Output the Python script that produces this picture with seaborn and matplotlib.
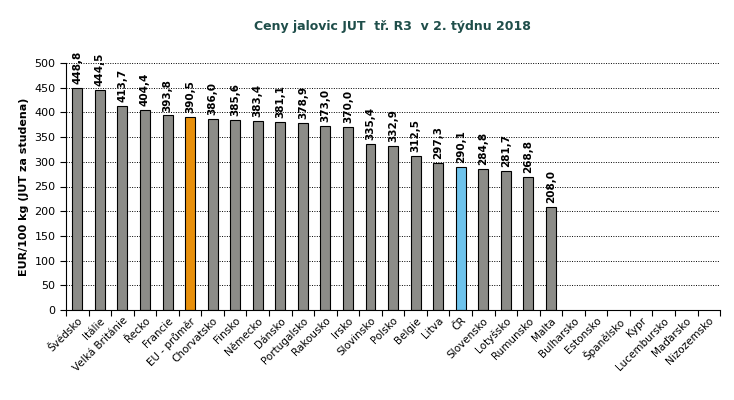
import numpy as np
import pandas as pd
import matplotlib
matplotlib.use("Agg")
import matplotlib.pyplot as plt
import seaborn as sns
from matplotlib.ticker import MultipleLocator, FixedLocator

# data
zeme = ["Švédsko", "Itálie", "Velká Británie", "Řecko", "Francie", "EU - průměr",
        "Chorvatsko", "Finsko", "Německo", "Dánsko", "Portugalsko", "Rakousko",
        "Irsko", "Slovinsko", "Polsko", "Belgie", "Litva", "ČR", "Slovensko",
        "Lotyšsko", "Rumunsko", "Malta", "Bulharsko", "Estonsko", "Španělsko",
        "Kypr", "Lucembursko", "Maďarsko", "Nizozemsko"]
ceny = [448.8, 444.5, 413.7, 404.4, 393.8, 390.5, 386.0, 385.6, 383.4, 381.1,
        378.9, 373.0, 370.0, 335.4, 332.9, 312.5, 297.3, 290.1, 284.8, 281.7,
        268.8, 208.0, np.nan, np.nan, np.nan, np.nan, np.nan, np.nan, np.nan]

df = pd.DataFrame({"Zeme": zeme, "Cena": ceny})

sns.set_style("white")
plt.rcParams["font.family"] = ["DejaVu Sans"]
plt.rcParams["text.color"] = "black"
plt.rcParams["axes.labelcolor"] = "black"
plt.rcParams["xtick.color"] = "black"
plt.rcParams["ytick.color"] = "black"

barvy = {z: "#8C8C88" for z in zeme}
barvy["EU - průměr"] = "#E8900C"
barvy["ČR"] = "#6EC3EC"

fig = plt.figure(figsize=(7.34, 4.0), dpi=100)
ax = fig.add_axes([0.09, 0.225, 0.891, 0.6175])

sns.barplot(data=df, x="Zeme", y="Cena", hue="Zeme", palette=barvy,
            width=0.44, edgecolor="black", linewidth=0.8, legend=False, ax=ax,
            saturation=1)

ax.set_ylim(0, 500)
ax.set_xlim(-0.5, len(zeme) - 0.5)
ax.yaxis.set_major_locator(MultipleLocator(50))
ax.yaxis.grid(True, color="black", linestyle=(0, (1, 1.5)), linewidth=0.7)
ax.set_axisbelow(True)

for s in ["top", "right"]:
    ax.spines[s].set_visible(False)
for s in ["left", "bottom"]:
    ax.spines[s].set_color("black")
    ax.spines[s].set_linewidth(0.8)

# popisky hodnot
for i, v in enumerate(ceny):
    if not np.isnan(v):
        ax.text(i, v + 8, f"{v:.1f}".replace(".", ","), rotation=90,
                ha="center", va="bottom", fontsize=7.5, fontweight="bold",
                color="black", clip_on=False)

# osa x: ticky mezi kategoriemi, popisky pod sloupci
ax.set_xticks(range(len(zeme)))
ax.set_xticklabels(zeme, rotation=45, ha="right", rotation_mode="anchor",
                   fontsize=7.5)
ax.tick_params(axis="x", which="major", length=0, pad=4)
ax.xaxis.set_minor_locator(FixedLocator(np.arange(-0.5, len(zeme), 1)))
ax.tick_params(axis="x", which="minor", length=4, width=0.8, color="black",
               direction="out", bottom=True)
ax.tick_params(axis="y", length=4, width=0.8, color="black", direction="out",
               left=True, labelsize=8)

ax.set_xlabel("")
ax.set_ylabel("EUR/100 kg (JUT za studena)", fontsize=8, fontweight="bold")

fig.suptitle("Ceny jalovic JUT  tř. R3  v 2. týdnu 2018", x=0.535, y=0.95,
             fontsize=9, fontweight="bold", color="#1F4E4A")

fig.savefig("out.png", dpi=100)
